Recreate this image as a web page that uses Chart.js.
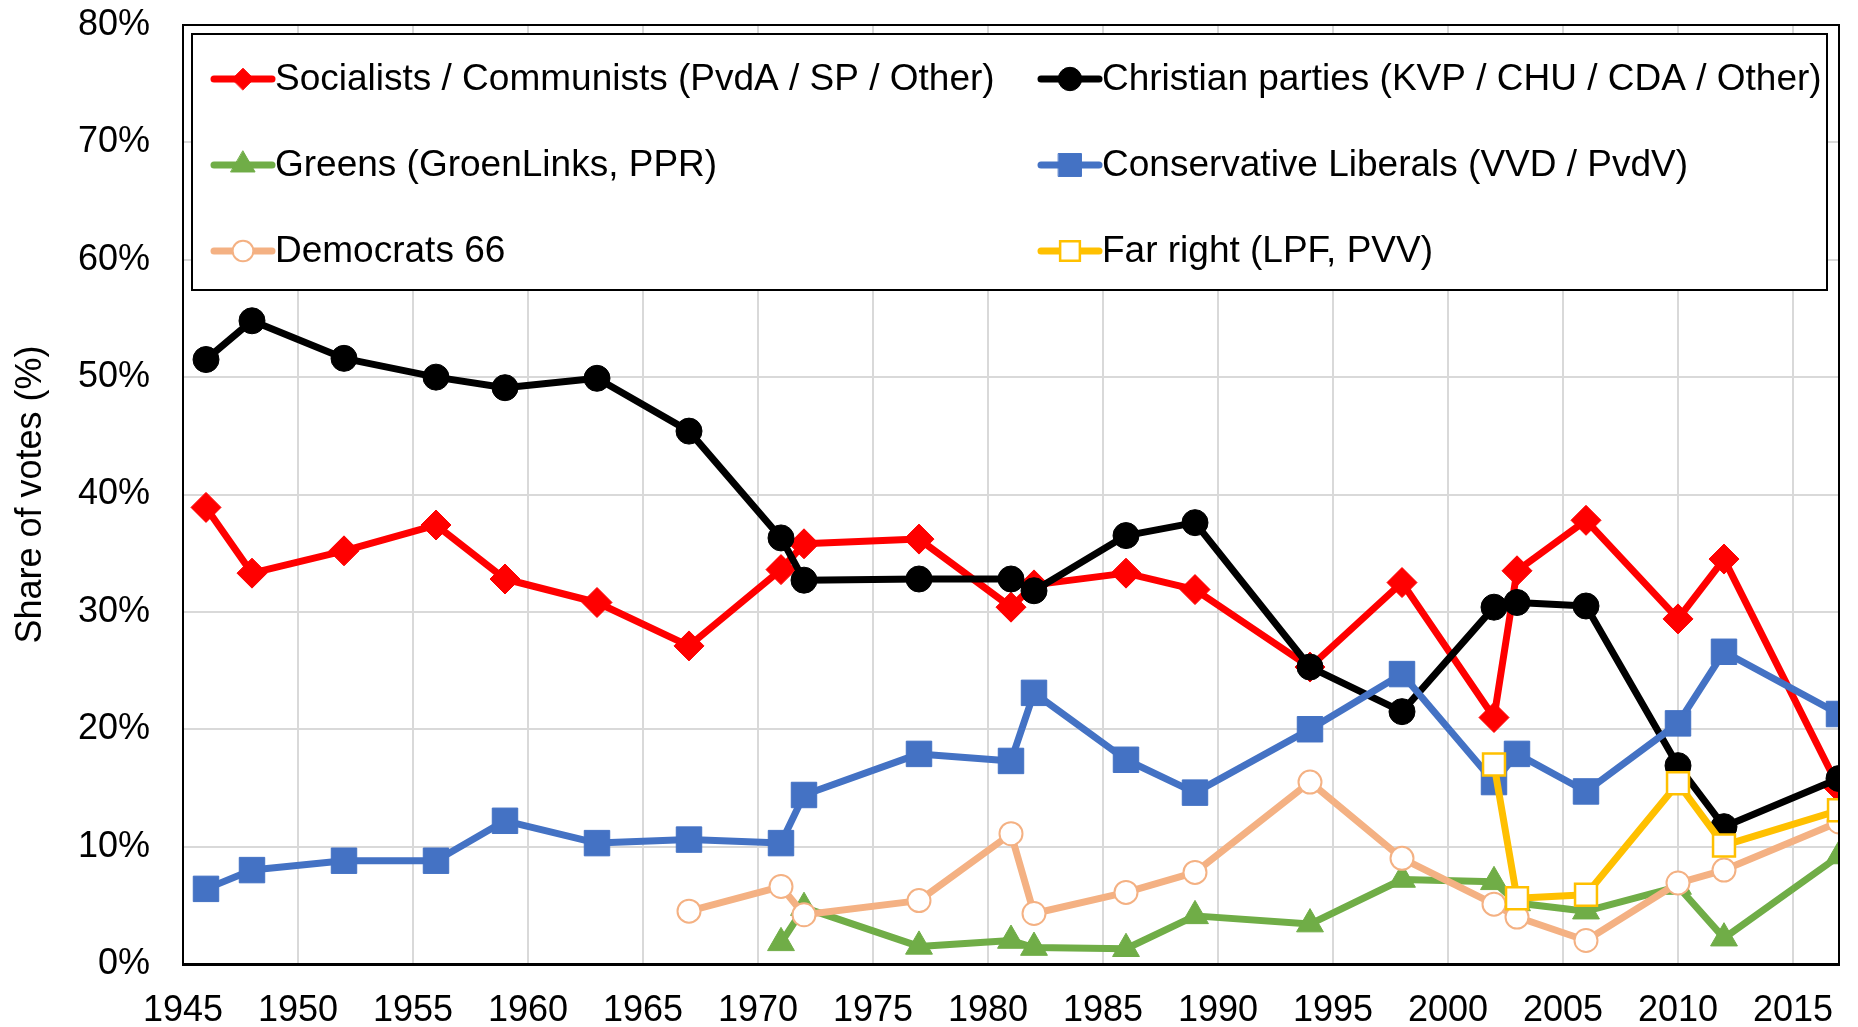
<!DOCTYPE html>
<html>
<head>
<meta charset="utf-8">
<script src="https://cdn.jsdelivr.net/npm/chart.js@4/dist/chart.umd.min.js"></script>
<style>
  body { margin: 0; background: #fff; }
</style>
</head>
<body>
<canvas id="myChart" width="1858" height="1027"></canvas>
<script>
// election years (Tweede Kamer)
let years = [1946, 1948, 1952, 1956, 1959, 1963, 1967, 1971, 1972, 1977, 1981, 1982,
             1986, 1989, 1994, 1998, 2002, 2003, 2006, 2010, 2012, 2017];

// share of votes in %, null = party did not exist yet
let socialists = [38.9, 33.3, 35.2, 37.4, 32.8, 30.8, 27.1, 33.6, 35.8, 36.2, 30.4, 32.3,
                  33.3, 31.9, 25.3, 32.5, 21.0, 33.5, 37.8, 29.4, 34.5, 15.0];
let christian = [51.5, 54.8, 51.6, 50.0, 49.1, 49.9, 45.4, 36.3, 32.7, 32.8, 32.8, 31.8,
                 36.5, 37.6, 25.3, 21.5, 30.4, 30.8, 30.5, 16.9, 11.7, 15.8];
let greens = [null, null, null, null, null, null, null, 1.8, 4.8, 1.5, 2.0, 1.4,
              1.3, 4.1, 3.4, 7.2, 7.0, 5.2, 4.5, 6.6, 2.2, 9.2];
let liberals = [6.4, 8.0, 8.8, 8.8, 12.2, 10.3, 10.6, 10.3, 14.4, 17.9, 17.3, 23.1,
                17.4, 14.6, 20.0, 24.7, 15.5, 17.9, 14.7, 20.5, 26.6, 21.3];
let d66 = [null, null, null, null, null, null, 4.5, 6.6, 4.2, 5.4, 11.1, 4.3,
           6.1, 7.8, 15.5, 9.0, 5.1, 4.0, 2.0, 6.9, 8.0, 12.1];
let farRight = [null, null, null, null, null, null, null, null, null, null, null, null,
                null, null, null, null, 17.0, 5.6, 5.9, 15.4, 10.1, 13.1];

let etiquetas = [
    "Socialists / Communists (PvdA / SP / Other)",
    "Christian parties (KVP / CHU / CDA / Other)",
    "Greens (GroenLinks, PPR)",
    "Conservative Liberals (VVD / PvdV)",
    "Democrats 66",
    "Far right (LPF, PVV)"
];

const FONT = '"Liberation Sans", Arial, sans-serif';
Chart.defaults.font.family = FONT;
Chart.defaults.color = '#000';

function puntos(serie) {
    let res = [];
    for (let i = 0; i < years.length; i++) {
        if (serie[i] !== null) res.push({x: years[i], y: serie[i]});
    }
    return res;
}

function serie(idx, valores, color, estilo, radio, relleno, borde) {
    return {
        label: etiquetas[idx],
        data: puntos(valores),
        borderColor: color,
        backgroundColor: relleno,
        borderWidth: 7,
        borderCapStyle: 'round',
        borderJoinStyle: 'round',
        pointStyle: estilo,
        pointRadius: radio,
        pointBorderWidth: borde,
        pointBorderColor: color,
        pointBackgroundColor: relleno,
        tension: 0,
        clip: 0,
        order: 10 - idx
    };
}

let datasets = [
    serie(0, socialists, '#FF0000', 'rectRot', 15, '#FF0000', 1),
    serie(1, christian, '#000000', 'circle', 13, '#000000', 1),
    serie(2, greens, '#70AD47', 'triangle', 15.5, '#70AD47', 1),
    serie(3, liberals, '#4472C4', 'rect', 18, '#4472C4', 1),
    serie(4, d66, '#F4B183', 'circle', 11.5, '#FFFFFF', 2),
    serie(5, farRight, '#FFC000', 'rect', 15.5, '#FFFFFF', 2.5)
];

// legend drawn as a framed box inside the plot, two columns
const cajaLeyenda = {
    id: 'cajaLeyenda',
    afterDraw(chart) {
        const ctx = chart.ctx;
        const a = chart.chartArea;
        ctx.save();
        ctx.strokeStyle = '#000';
        ctx.lineWidth = 2;
        ctx.beginPath();
        ctx.moveTo(a.left, a.top);
        ctx.lineTo(a.right, a.top);
        ctx.lineTo(a.right, a.bottom);
        ctx.stroke();

        const x0 = a.left + 9, y0 = a.top + 9;
        const x1 = a.right - 12, y1 = y0 + 256;
        ctx.fillStyle = '#fff';
        ctx.fillRect(x0, y0, x1 - x0, y1 - y0);
        ctx.lineWidth = 2;
        ctx.strokeRect(x0, y0, x1 - x0, y1 - y0);

        chart.data.datasets.forEach((ds, i) => {
            const col = i % 2, fila = Math.floor(i / 2);
            const lx = x0 + (col === 0 ? 22 : 849);
            const ly = y0 + 45 + fila * 86;
            ctx.strokeStyle = ds.borderColor;
            ctx.lineWidth = ds.borderWidth;
            ctx.lineCap = 'round';
            ctx.beginPath();
            ctx.moveTo(lx, ly);
            ctx.lineTo(lx + 58, ly);
            ctx.stroke();

            ctx.fillStyle = ds.pointBackgroundColor;
            ctx.strokeStyle = ds.pointBorderColor;
            ctx.lineWidth = ds.pointBorderWidth;
            let r = ds.pointStyle === 'rectRot' ? ds.pointRadius * 0.72 : ds.pointRadius * 0.9;
            if (Chart.helpers && Chart.helpers.drawPoint) {
                Chart.helpers.drawPoint(ctx, {pointStyle: ds.pointStyle, radius: r,
                    borderWidth: ds.pointBorderWidth, rotation: 0}, lx + 29, ly);
            } else {
                ctx.beginPath();
                ctx.arc(lx + 29, ly, r, 0, Math.PI * 2);
                ctx.fill();
                ctx.stroke();
            }

            ctx.fillStyle = '#000';
            ctx.font = '37px ' + FONT;
            ctx.textBaseline = 'middle';
            ctx.textAlign = 'left';
            ctx.fillText(ds.label, lx + 61, ly + 1);
        });
        ctx.restore();
    }
};

let grafica = document.getElementById("myChart");

new Chart(grafica, {
    type: 'line',
    data: { datasets: datasets },
    options: {
        responsive: false,
        maintainAspectRatio: false,
        animation: false,
        devicePixelRatio: 1,
        layout: { padding: { top: 25, right: 6, left: 0, bottom: 0 } },
        plugins: {
            legend: { display: false },
            tooltip: { enabled: false }
        },
        scales: {
            x: {
                type: 'linear',
                min: 1945,
                max: 2017,
                afterFit: (scale) => {
                    scale.height = 63;
                    scale.paddingLeft = 0;
                    scale.paddingRight = 0;
                },
                grid: { color: '#D9D9D9', lineWidth: 2, drawTicks: false },
                border: { color: '#000', width: 3 },
                ticks: {
                    stepSize: 5,
                    includeBounds: false,
                    autoSkip: false,
                    maxRotation: 0,
                    padding: 25,
                    font: { size: 36 },
                    color: '#000',
                    callback: (v) => String(v)
                }
            },
            y: {
                min: 0,
                max: 80,
                afterFit: (scale) => {
                    scale.width = 183;
                    scale.paddingTop = 0;
                    scale.paddingBottom = 0;
                },
                grid: { color: '#D9D9D9', lineWidth: 2, drawTicks: false },
                border: { color: '#000', width: 2 },
                ticks: {
                    stepSize: 10,
                    padding: 33,
                    font: { size: 36 },
                    color: '#000',
                    callback: (v) => v + '%'
                },
                title: {
                    display: true,
                    text: 'Share of votes (%)',
                    font: { size: 36 },
                    color: '#000',
                    padding: { top: 9, bottom: 0 }
                }
            }
        }
    },
    plugins: [cajaLeyenda]
});
</script>
</body>
</html>
